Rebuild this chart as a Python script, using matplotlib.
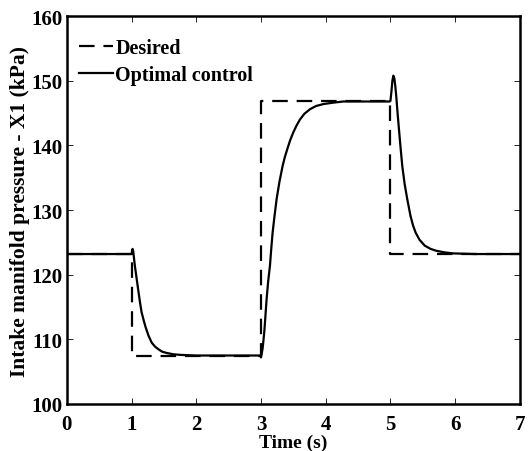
import matplotlib
matplotlib.use('Agg')
import matplotlib.pyplot as plt

plt.rcParams['font.family'] = ['Liberation Serif', 'DejaVu Serif']
plt.rcParams['font.weight'] = 'bold'

# 期望值 (階梯)
t_des = [0, 1, 1, 3, 3, 5, 5, 7]
p_des = [123.2, 123.2, 107.5, 107.5, 146.8, 146.8, 123.2, 123.2]

# 最佳控制響應
t_opt = [0, 1.0, 1.008, 1.015, 1.025, 1.05, 1.075, 1.10, 1.127, 1.154, 1.185, 1.216,
         1.26, 1.31, 1.36, 1.41, 1.47, 1.54, 1.64, 1.75, 2.0,
         2.99, 3.0, 3.025, 3.05, 3.068, 3.086, 3.11, 3.138, 3.158, 3.179, 3.21, 3.241,
         3.285, 3.333, 3.368, 3.405, 3.45, 3.498, 3.55, 3.601, 3.67, 3.756, 3.85,
         3.962, 4.1, 4.27, 4.6, 4.99,
         5.0, 5.015, 5.03, 5.045, 5.06, 5.075, 5.09, 5.112, 5.136, 5.16, 5.183, 5.22,
         5.26, 5.31, 5.35, 5.39, 5.45, 5.53, 5.62, 5.71, 5.84, 5.97, 6.3, 7.0]
p_opt = [123.2, 123.2, 123.8, 124.0, 123.6, 121.4, 119.6, 117.8, 115.9, 114.2, 113.0, 111.9,
         110.6, 109.5, 108.9, 108.5, 108.1, 107.9, 107.7, 107.6, 107.5,
         107.5, 107.2, 108.6, 111.1, 113.6, 116.2, 118.9, 121.4, 124.0, 126.5, 129.2, 131.7,
         134.4, 136.8, 138.2, 139.4, 140.8, 142.0, 143.1, 144.0, 144.9, 145.6, 146.1,
         146.4, 146.6, 146.8, 146.8, 146.8,
         146.9, 148.3, 150.0, 150.8, 150.4, 149.2, 147.6, 144.8, 142.0, 139.3, 136.8, 134.0,
         131.7, 129.1, 127.6, 126.5, 125.4, 124.5, 124.0, 123.7, 123.45, 123.3, 123.2, 123.2]

fig = plt.figure(figsize=(5.31, 4.52), dpi=100)
ax = fig.add_axes([0.126, 0.104, 0.853, 0.858])

ax.plot(t_des, p_des, color='black', lw=1.6, dashes=(7, 4), label='Desired')
ax.plot(t_opt, p_opt, color='black', lw=1.6, label='Optimal control')

ax.set_xlim(0, 7)
ax.set_ylim(100, 160)
ax.set_xticks(range(0, 8))
ax.set_yticks(range(100, 161, 10))
ax.tick_params(direction='in', top=True, right=True, length=4, width=0.6,
               labelsize=15, pad=3)
ax.tick_params(axis='x', pad=7)
for s in ax.spines.values():
    s.set_linewidth(1.8)

ax.set_xlabel('Time (s)', fontsize=14, fontweight='bold', labelpad=0)
ax.set_ylabel('Intake manifold pressure - X1 (kPa)', fontsize=15.5, fontweight='bold', labelpad=1)

leg = ax.legend(loc='upper left', bbox_to_anchor=(0.0, 0.975), frameon=False, fontsize=14.5,
                handlelength=1.7, handletextpad=0.1, borderaxespad=0.2, borderpad=0.4,
                labelspacing=0.35)

plt.savefig('out.png', dpi=100)
